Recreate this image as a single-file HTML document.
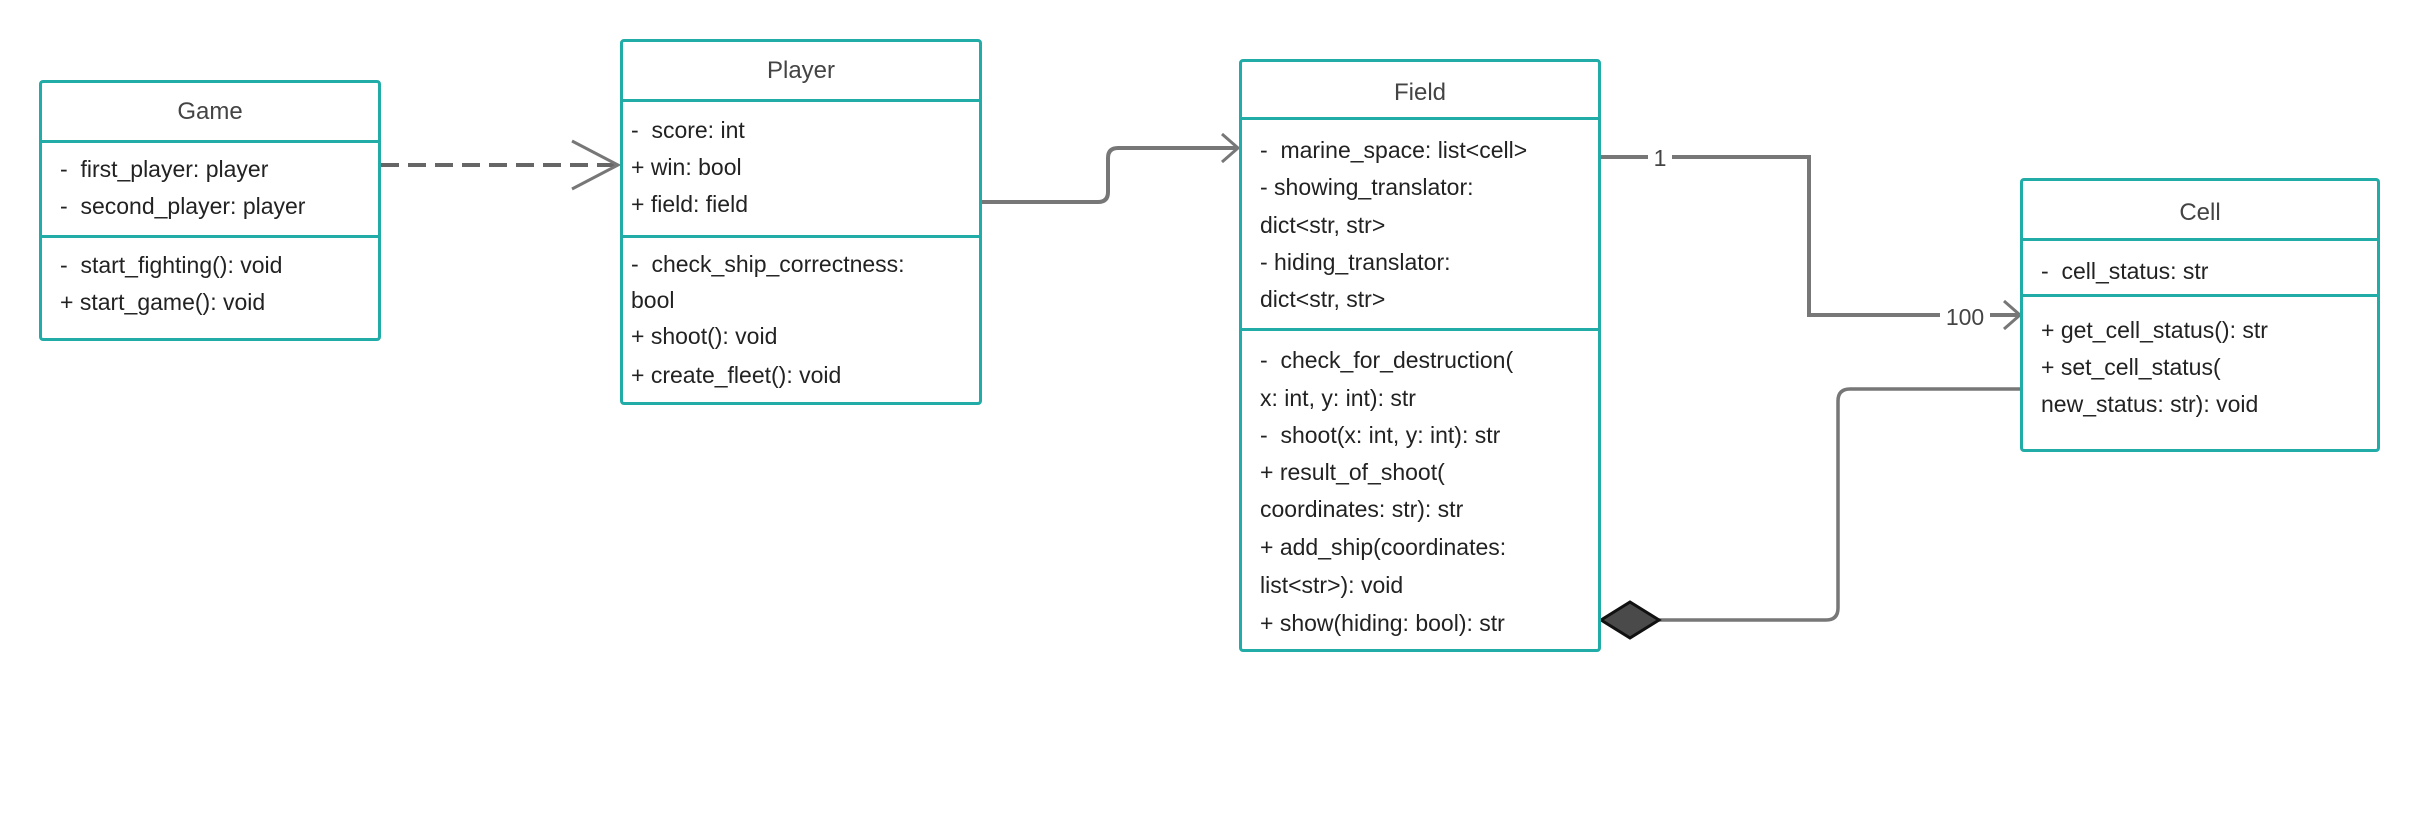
<!DOCTYPE html>
<html><head><meta charset="utf-8"><style>
body{margin:0;width:2420px;height:840px;background:#fff;position:relative;overflow:hidden;font-family:"Liberation Sans",sans-serif;}
.box{position:absolute;border:3px solid #22aca8;border-radius:4px;box-sizing:border-box;background:#fff;}
.hl{position:absolute;left:0;right:0;height:0;border-top:3px solid #22aca8;}
.t{position:absolute;font-size:23px;color:#222;white-space:nowrap;}
.title{position:absolute;left:0;right:0;text-align:center;font-size:24px;color:#444;}
svg{position:absolute;left:0;top:0;}
</style></head><body>
<svg width="2420" height="840">
<g fill="none" stroke="#777" stroke-width="4">
<path d="M381 165 H616" stroke-dasharray="18,9" stroke="#666"/>
<path d="M572 141 L618 165 L572 189" stroke-width="3"/>
<path d="M980 202 H1098 Q1108 202 1108 192 V158 Q1108 148 1118 148 H1237"/>
<path d="M1222 134 L1238 148 L1222 162" stroke-width="3"/>
<path d="M1600 157 H1648 M1672 157 H1809 V315 H1940 M1990 315 H2018"/>
<path d="M2004 301 L2020 315 L2004 329" stroke-width="3"/>
<path d="M1659 620 H1826 Q1838 620 1838 608 V401 Q1838 389 1850 389 H2020" stroke-width="3.5"/>
</g>
<polygon points="1601,620 1630,602 1659,620 1630,638" fill="#4a4a4a" stroke="#111" stroke-width="3"/>
<text x="1660" y="166" font-size="23" fill="#444" text-anchor="middle" font-family="Liberation Sans">1</text>
<text x="1965" y="325" font-size="23" fill="#444" text-anchor="middle" font-family="Liberation Sans">100</text>
</svg>

<div class="box" style="left:39px;top:80px;width:342px;height:261px">
<div class="title" style="top:15px">Game</div>
<div class="hl" style="top:57px"></div>
<div class="t" style="left:18px;top:73px">-&nbsp; first_player: player</div>
<div class="t" style="left:18px;top:110px">-&nbsp; second_player: player</div>
<div class="hl" style="top:152px"></div>
<div class="t" style="left:18px;top:169px">-&nbsp; start_fighting(): void</div>
<div class="t" style="left:18px;top:206px">+ start_game(): void</div>
</div>

<div class="box" style="left:620px;top:39px;width:362px;height:366px">
<div class="title" style="top:15px">Player</div>
<div class="hl" style="top:57px"></div>
<div class="t" style="left:8px;top:75px">-&nbsp; score: int</div>
<div class="t" style="left:8px;top:112px">+ win: bool</div>
<div class="t" style="left:8px;top:149px">+ field: field</div>
<div class="hl" style="top:193px"></div>
<div class="t" style="left:8px;top:209px">-&nbsp; check_ship_correctness:</div>
<div class="t" style="left:8px;top:245px">bool</div>
<div class="t" style="left:8px;top:281px">+ shoot(): void</div>
<div class="t" style="left:8px;top:320px">+ create_fleet(): void</div>
</div>

<div class="box" style="left:1239px;top:59px;width:362px;height:593px">
<div class="title" style="top:17px">Field</div>
<div class="hl" style="top:55px"></div>
<div class="t" style="left:18px;top:75px">-&nbsp; marine_space: list&lt;cell&gt;</div>
<div class="t" style="left:18px;top:112px">- showing_translator:</div>
<div class="t" style="left:18px;top:150px">dict&lt;str, str&gt;</div>
<div class="t" style="left:18px;top:187px">- hiding_translator:</div>
<div class="t" style="left:18px;top:224px">dict&lt;str, str&gt;</div>
<div class="hl" style="top:266px"></div>
<div class="t" style="left:18px;top:285px">-&nbsp; check_for_destruction(</div>
<div class="t" style="left:18px;top:323px">x: int, y: int): str</div>
<div class="t" style="left:18px;top:360px">-&nbsp; shoot(x: int, y: int): str</div>
<div class="t" style="left:18px;top:397px">+ result_of_shoot(</div>
<div class="t" style="left:18px;top:434px">coordinates: str): str</div>
<div class="t" style="left:18px;top:472px">+ add_ship(coordinates:</div>
<div class="t" style="left:18px;top:510px">list&lt;str&gt;): void</div>
<div class="t" style="left:18px;top:548px">+ show(hiding: bool): str</div>
</div>

<div class="box" style="left:2020px;top:178px;width:360px;height:274px">
<div class="title" style="top:18px">Cell</div>
<div class="hl" style="top:57px"></div>
<div class="t" style="left:18px;top:77px">-&nbsp; cell_status: str</div>
<div class="hl" style="top:113px"></div>
<div class="t" style="left:18px;top:136px">+ get_cell_status(): str</div>
<div class="t" style="left:18px;top:173px">+ set_cell_status(</div>
<div class="t" style="left:18px;top:210px">new_status: str): void</div>
</div>
</body></html>
